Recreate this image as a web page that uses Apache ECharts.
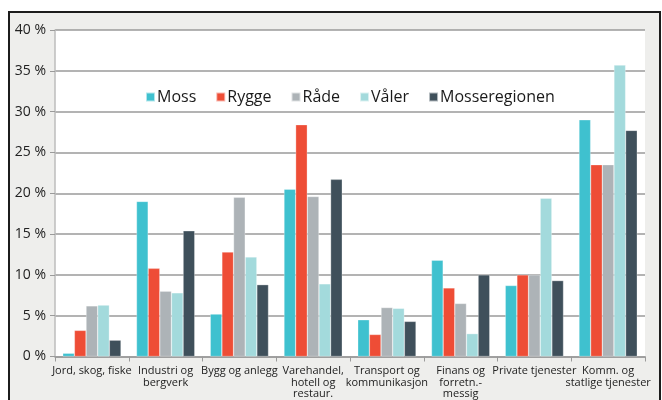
<!DOCTYPE html>
<html lang="no">
<head>
  <meta charset="UTF-8">
  <title>Sysselsetting etter næring</title>
  <style>
    html, body {margin: 0; padding: 0; background: #fff;}
    #chart {width: 662px; height: 400px;}
  </style>
</head>
<body>
  <div id="chart"></div>
  <script src="https://cdn.jsdelivr.net/npm/echarts@6/dist/echarts.min.js"></script>
  <script>
    var categories = ['Jord, skog, fiske', 'Industri og\nbergverk', 'Bygg og anlegg', 'Varehandel,\nhotell og\nrestaur.',
      'Transport og\nkommunikasjon', 'Finans og\nforretn.-\nmessig', 'Private tjenester', 'Komm. og\nstatlige tjenester'];
    var moss = [0.4, 19.0, 5.2, 20.5, 4.5, 11.8, 8.7, 29.0];
    var rygge = [3.2, 10.8, 12.8, 28.4, 2.7, 8.4, 10.0, 23.5];
    var raade = [6.2, 8.0, 19.5, 19.6, 6.0, 6.5, 10.0, 23.5];
    var vaaler = [6.3, 7.8, 12.2, 8.9, 5.9, 2.8, 19.4, 35.7];
    var mossereg = [2.0, 15.4, 8.8, 21.7, 4.3, 10.0, 9.3, 27.7];
    var yTicks = [0, 5, 10, 15, 20, 25, 30, 35, 40];

    var chart = echarts.init(document.getElementById('chart'));
    var font = '"Open Sans", sans-serif';

    function bar(name, data, color) {
      return {
        name: name, type: 'bar', data: data,
        barGap: '0%', barCategoryGap: '21%',
        itemStyle: {color: color, borderColor: 'rgba(255,255,255,0.6)', borderWidth: 0.5}
      };
    }

    var option = {
      animation: false,
      textStyle: {fontFamily: font},
      graphic: [{
        type: 'rect', z: -10, silent: true,
        shape: {x: 9, y: 12, width: 651, height: 400},
        style: {fill: '#eeeeec', stroke: '#1c1c1c', lineWidth: 2}
      }],
      legend: {
        top: 84, left: 140,
        itemWidth: 9, itemHeight: 9, itemGap: 19,
        icon: 'rect',
        textStyle: {fontSize: 16, color: '#1a1a1a', fontFamily: font, padding: [0, 0, 0, -3]},
        data: ['Moss', 'Rygge', 'Råde', 'Våler', 'Mosseregionen']
      },
      grid: {left: 55, top: 30, right: 17, bottom: 42, show: true, backgroundColor: '#fff', borderWidth: 0},
      xAxis: {
        type: 'category', data: categories,
        axisLine: {lineStyle: {color: '#9a9a9a', width: 1.5}},
        axisTick: {show: true, length: 5, lineStyle: {color: '#9a9a9a'}},
        axisLabel: {fontSize: 11, color: '#222', interval: 0, lineHeight: 11.5, margin: 9, fontFamily: font}
      },
      yAxis: {
        type: 'value', min: yTicks[0], max: yTicks[yTicks.length - 1], interval: 5,
        axisLine: {show: true, lineStyle: {color: '#bdbdbd', width: 1.5}},
        axisTick: {show: true, length: 5, lineStyle: {color: '#9a9a9a'}},
        axisLabel: {fontSize: 14, color: '#222', margin: 9, formatter: '{value} %', fontFamily: font},
        splitLine: {lineStyle: {color: '#9a9a9a', width: 1.5}}
      },
      series: [
        bar('Moss', moss, '#3fc1cf'),
        bar('Rygge', rygge, '#ee4d36'),
        bar('Råde', raade, '#adb3b7'),
        bar('Våler', vaaler, '#a3dadc'),
        bar('Mosseregionen', mossereg, '#3f505b')
      ]
    };

    chart.setOption(option);
  </script>
</body>
</html>
